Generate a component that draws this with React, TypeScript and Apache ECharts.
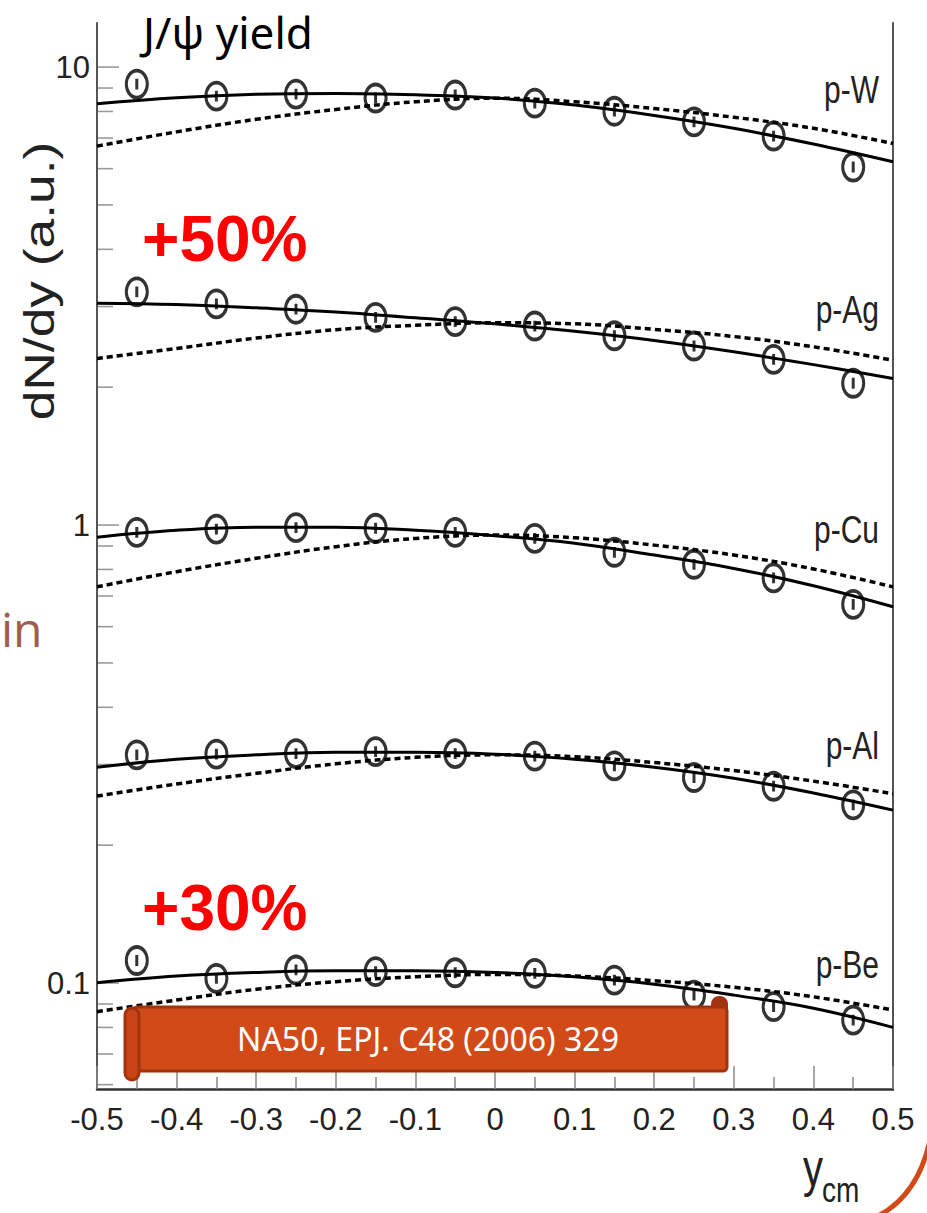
import React, { useEffect, useRef } from "react";
import * as echarts from "echarts";

// x positions of measured points and of the read-off curve samples
const xPoints = [-0.45, -0.35, -0.25, -0.15, -0.05, 0.05, 0.15, 0.25, 0.35, 0.45];
const xCurve = [-0.5, -0.4, -0.3, -0.2, -0.1, 0, 0.1, 0.2, 0.3, 0.4, 0.5];

const targets = ["p-W", "p-Ag", "p-Cu", "p-Al", "p-Be"];

// measured J/psi yields (open circles)
const dataW = [9.18, 8.64, 8.73, 8.56, 8.69, 8.34, 8.01, 7.59, 7.07, 6.05];
const dataAg = [3.23, 3.04, 2.96, 2.84, 2.78, 2.72, 2.59, 2.46, 2.3, 2.04];
const dataCu = [0.964, 0.98, 0.987, 0.984, 0.964, 0.935, 0.872, 0.821, 0.767, 0.671];
const dataAl = [0.315, 0.316, 0.317, 0.32, 0.317, 0.313, 0.298, 0.281, 0.269, 0.245];
const dataBe = [0.112, 0.1024, 0.1068, 0.1059, 0.1053, 0.105, 0.1015, 0.0941, 0.0888, 0.083];

// solid curves (fit)
const fitW = [8.32, 8.57, 8.72, 8.76, 8.7, 8.56, 8.26, 7.84, 7.35, 6.79, 6.21];
const fitAg = [3.05, 3.03, 2.98, 2.92, 2.835, 2.75, 2.65, 2.53, 2.39, 2.24, 2.09];
const fitCu = [0.941, 0.974, 0.989, 0.989, 0.974, 0.948, 0.913, 0.86, 0.804, 0.737, 0.663];
const fitAl = [0.296, 0.308, 0.315, 0.319, 0.319, 0.316, 0.308, 0.296, 0.28, 0.26, 0.2385];
const fitBe = [0.1002, 0.1036, 0.1055, 0.1064, 0.1064, 0.1055, 0.1032, 0.0994, 0.0941, 0.0881, 0.08];

// dotted curves
const refW = [6.72, 7.22, 7.69, 8.08, 8.4, 8.55, 8.4, 8.12, 7.77, 7.35, 6.81];
const refAg = [2.31, 2.43, 2.56, 2.67, 2.73, 2.765, 2.75, 2.675, 2.58, 2.45, 2.29];
const refCu = [0.733, 0.791, 0.846, 0.897, 0.935, 0.951, 0.938, 0.904, 0.86, 0.802, 0.733];
const refAl = [0.256, 0.272, 0.287, 0.301, 0.311, 0.315, 0.312, 0.303, 0.291, 0.276, 0.259];
const refBe = [0.0866, 0.0918, 0.0969, 0.1007, 0.1032, 0.1044, 0.1036, 0.1012, 0.0979, 0.0933, 0.0873];

// axis ticks
const yTickValues = [
  0.06, 0.07, 0.08, 0.09, 0.1, 0.2, 0.3, 0.4, 0.5, 0.6, 0.7, 0.8, 0.9,
  1, 2, 3, 4, 5, 6, 7, 8, 9, 10,
];
const yTickLabels = ["0.1", "1", "10"];
const yRange = [0.0587, 12.48];
const xRange = [-0.5, 0.5];

const circlePath =
  "path://M10,0 A10,10 0 1 1 10,20 A10,10 0 1 1 10,0 Z M10,6 L10,14";

export default function App() {
  const ref = useRef<HTMLDivElement>(null);

  useEffect(() => {
    document.body.style.margin = "0";
    const chart = echarts.init(ref.current!, null, { renderer: "svg" });

    const groups = [
      { pts: dataW, fit: fitW, ref: refW },
      { pts: dataAg, fit: fitAg, ref: refAg },
      { pts: dataCu, fit: fitCu, ref: refCu },
      { pts: dataAl, fit: fitAl, ref: refAl },
      { pts: dataBe, fit: fitBe, ref: refBe },
    ];

    const series: any[] = [];
    groups.forEach((g, k) => {
      series.push({
        type: "line",
        name: targets[k] + " fit",
        data: xCurve.map((x, i) => [x, g.fit[i]]),
        smooth: 0.4,
        showSymbol: false,
        silent: true,
        lineStyle: { color: "#000", width: 3 },
        z: 3,
      });
      series.push({
        type: "line",
        name: targets[k] + " ref",
        data: xCurve.map((x, i) => [x, g.ref[i]]),
        smooth: 0.4,
        showSymbol: false,
        silent: true,
        lineStyle: { color: "#000", width: 3.5, type: [6, 4] },
        z: 3,
      });
      series.push({
        type: "scatter",
        name: targets[k],
        data: xPoints.map((x, i) => [x, g.pts[i]]),
        symbol: circlePath,
        symbolSize: [21, 27],
        itemStyle: { color: "rgba(0,0,0,0)", borderColor: "#000", borderWidth: 3.4 },
        z: 4,
      });
    });

    // y-axis ticks (2..9 per decade), drawn through the log axis
    series.push({
      type: "custom",
      silent: true,
      data: yTickValues.map((v) => [xRange[0], v]),
      renderItem: (_p: any, api: any) => {
        const pt = api.coord([api.value(0), api.value(1)]);
        const l = Math.log10(api.value(1));
        const major = Math.abs(l - Math.round(l)) < 1e-6;
        return {
          type: "line",
          shape: { x1: pt[0] + 1, y1: pt[1], x2: pt[0] + (major ? 22 : 16), y2: pt[1] },
          style: { stroke: "#9a9a9a", lineWidth: 1.6 },
        };
      },
      z: 1,
    });

    const labelFont = "'Liberation Sans Narrow', 'Arial Narrow', 'Liberation Sans', sans-serif";

    const seriesLabelY = [90, 310, 530, 746, 965];
    const graphic: any[] = [];
    targets.forEach((t, k) => {
      graphic.push({
        type: "text",
        x: 879,
        y: seriesLabelY[k],
        scaleY: 1.3,
        style: {
          text: t,
          font: "30px 'Liberation Sans', sans-serif",
          fill: "#222",
          align: "right",
          verticalAlign: "middle",
          textAlign: "right",
          textVerticalAlign: "middle",
        },
        z: 10,
      });
    });

    graphic.push(
      {
        type: "text",
        x: 40,
        y: 281,
        rotation: Math.PI / 2,
        scaleX: 1.27,
        style: {
          text: "dN/dy (a.u.)",
          font: "42px 'Liberation Sans', sans-serif",
          fill: "#222",
          align: "center",
          verticalAlign: "middle",
          textAlign: "center",
          textVerticalAlign: "middle",
        },
      },
      {
        type: "text",
        x: 143,
        y: 32,
        style: {
          text: "J/ψ yield",
          font: "44px 'Noto Sans', sans-serif",
          fill: "#000",
          align: "left",
          verticalAlign: "middle",
          textAlign: "left",
          textVerticalAlign: "middle",
        },
      },
      {
        type: "text",
        x: 142,
        y: 239,
        style: {
          text: "+50%",
          font: "bold 64px 'Liberation Sans', sans-serif",
          fill: "#ff0000",
          align: "left",
          verticalAlign: "middle",
          textAlign: "left",
          textVerticalAlign: "middle",
        },
      },
      {
        type: "text",
        x: 142,
        y: 908,
        style: {
          text: "+30%",
          font: "bold 64px 'Liberation Sans', sans-serif",
          fill: "#ff0000",
          align: "left",
          verticalAlign: "middle",
          textAlign: "left",
          textVerticalAlign: "middle",
        },
      },
      {
        type: "text",
        x: 1,
        y: 628,
        style: {
          text: "in",
          font: "48px 'Open Sans', sans-serif",
          fill: "#9E5E4A",
          align: "left",
          verticalAlign: "middle",
          textAlign: "left",
          textVerticalAlign: "middle",
        },
      },
      {
        type: "text",
        x: 823,
        y: 1168,
        scaleY: 1.3,
        style: {
          text: "y",
          font: "40px 'Liberation Sans', sans-serif",
          fill: "#222",
          align: "right",
          verticalAlign: "middle",
          textAlign: "right",
          textVerticalAlign: "middle",
        },
      },
      {
        type: "text",
        x: 822,
        y: 1190,
        scaleY: 1.25,
        style: {
          text: "cm",
          font: "28px 'Liberation Sans', sans-serif",
          fill: "#222",
          align: "left",
          verticalAlign: "middle",
          textAlign: "left",
          textVerticalAlign: "middle",
        },
      },
      // banner
      {
        type: "rect",
        shape: { x: 712, y: 997, width: 15, height: 20, r: 7 },
        style: { fill: "#A3330F", stroke: "#A3330F", lineWidth: 2 },
        z: 20,
      },
      {
        type: "rect",
        shape: { x: 133, y: 1007, width: 594, height: 64, r: 4 },
        style: { fill: "#D14A18", stroke: "#A3330F", lineWidth: 3 },
        z: 21,
      },
      {
        type: "rect",
        shape: { x: 125, y: 1008, width: 14, height: 72, r: 7 },
        style: { fill: "#C94416", stroke: "#A3330F", lineWidth: 3 },
        z: 22,
      },
      {
        type: "text",
        x: 428,
        y: 1038,
        style: {
          text: "NA50, EPJ. C48 (2006) 329",
          font: "32px 'Noto Sans', sans-serif",
          fill: "#ffffff",
          align: "center",
          verticalAlign: "middle",
          textAlign: "center",
          textVerticalAlign: "middle",
        },
        z: 23,
      },
      {
        type: "bezierCurve",
        shape: { x1: 930, y1: 1140, cpx1: 918, cpy1: 1195, x2: 878, y2: 1216 },
        style: { stroke: "#D14A18", lineWidth: 5, fill: "none" },
        z: 5,
      }
    );

    chart.setOption({
      animation: false,
      backgroundColor: "#ffffff",
      grid: { left: 97, top: 23, width: 796, height: 1066, containLabel: false },
      xAxis: {
        type: "value",
        min: xRange[0],
        max: xRange[1],
        interval: 0.1,
        axisLine: { show: true, onZero: false, lineStyle: { color: "#333", width: 2.5 } },
        axisTick: { show: true, inside: true, length: 23, lineStyle: { color: "#888", width: 1.5 } },
        minorTick: { show: true, splitNumber: 2, length: 12, lineStyle: { color: "#888", width: 1.5 } },
        splitLine: { show: false },
        axisLabel: {
          fontFamily: labelFont,
          fontSize: 31,
          color: "#222",
          margin: 15,
        },
      },
      yAxis: [
        {
          type: "log",
          min: yRange[0],
          max: yRange[1],
          logBase: 10,
          position: "left",
          axisLine: { show: true, onZero: false, lineStyle: { color: "#555", width: 2 } },
          axisTick: { show: false },
          splitLine: { show: false },
          axisLabel: {
            fontFamily: labelFont,
            fontSize: 31,
            color: "#222",
            margin: 7,
            showMinLabel: false,
            showMaxLabel: false,
            formatter: (v: number) => {
              const l = Math.log10(v);
              const r = Math.round(l);
              if (Math.abs(l - r) > 1e-6) return "";
              const idx = r + 1;
              return yTickLabels[idx] ?? "";
            },
          },
        },
        {
          type: "value",
          position: "right",
          axisLine: { show: true, onZero: false, lineStyle: { color: "#555", width: 2 } },
          axisTick: { show: false },
          axisLabel: { show: false },
          splitLine: { show: false },
        },
      ],
      series,
      graphic,
    });

    return () => chart.dispose();
  }, []);

  return <div ref={ref} style={{ width: 927, height: 1213 }} />;
}
